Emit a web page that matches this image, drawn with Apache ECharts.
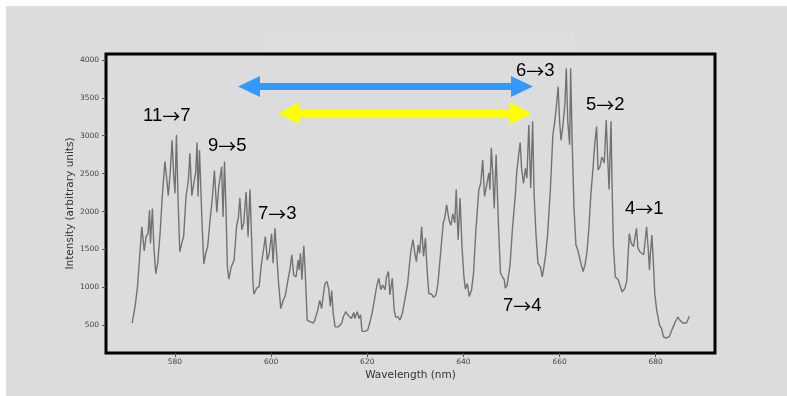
<!DOCTYPE html>
<html>
<head>
<meta charset="utf-8">
<script src="https://cdn.jsdelivr.net/npm/echarts@6.0.0/dist/echarts.min.js"></script>
<style>
  html, body { margin: 0; padding: 0; background: #fff; }
  #spectrum { width: 787px; height: 396px; }
</style>
</head>
<body>
<div id="spectrum"></div>
<script>
  // wavelength (nm)
  var wavelength = [
    571.1, 571.7, 572.2, 572.7, 573.1, 573.6, 574.0, 574.4, 574.7, 574.9, 575.3, 575.6, 576.0, 576.4, 576.9,
    577.4, 577.9, 578.3, 578.6, 579.0, 579.4, 579.7, 580.0, 580.3, 580.6, 581.0, 581.4, 581.8, 582.3, 582.8,
    583.1, 583.5, 583.9, 584.3, 584.6, 584.8, 585.1, 585.6, 586.0, 586.4, 586.8, 587.3, 587.8, 588.2, 588.7,
    589.1, 589.7, 590.0, 590.3, 590.6, 590.9, 591.2, 591.7, 592.3, 592.8, 593.2, 593.5, 593.9, 594.3, 594.8,
    595.2, 595.6, 595.9, 596.2, 596.4, 597.0, 597.5, 598.0, 598.4, 598.8, 599.2, 599.6, 600.1, 600.4, 600.8,
    601.1, 601.5, 602.0, 602.5, 602.9, 603.5, 603.9, 604.3, 604.7, 605.2, 605.6, 605.8, 606.1, 606.4, 606.8,
    607.1, 607.5, 608.1, 608.8, 609.1, 609.7, 610.1, 610.5, 610.8, 611.2, 611.6, 612.0, 612.3, 612.6, 612.9,
    613.3, 614.0, 614.7, 615.0, 615.5, 615.9, 616.3, 616.7, 617.2, 617.4, 617.9, 618.3, 618.6, 618.9, 619.5,
    620.1, 620.5, 621.0, 621.6, 622.0, 622.4, 622.8, 623.2, 623.7, 624.0, 624.4, 624.7, 625.2, 625.6, 625.9,
    626.4, 626.8, 627.3, 627.8, 628.4, 628.8, 629.1, 629.5, 629.8, 630.2, 630.6, 630.9, 631.3, 631.7, 632.1,
    632.4, 632.8, 633.4, 633.8, 634.3, 634.7, 635.3, 635.8, 636.1, 636.5, 637.0, 637.4, 637.8, 638.2, 638.5,
    638.9, 639.3, 639.7, 640.1, 640.4, 640.8, 641.2, 641.7, 642.1, 642.6, 643.2, 643.6, 644.0, 644.4, 644.8,
    645.3, 645.5, 645.8, 646.1, 646.4, 646.8, 647.3, 647.7, 648.1, 648.5, 648.7, 649.1, 649.7, 650.2, 650.8,
    651.1, 651.5, 651.8, 652.1, 652.5, 652.9, 653.2, 653.6, 654.0, 654.4, 654.7, 655.1, 655.5, 656.0, 656.4,
    656.7, 657.1, 657.5, 658.1, 658.6, 658.9, 659.3, 659.7, 660.0, 660.3, 660.7, 661.1, 661.4, 661.7, 662.1,
    662.3, 662.6, 663.0, 663.4, 663.8, 664.2, 664.5, 664.9, 665.3, 665.7, 666.1, 666.5, 667.0, 667.3, 667.7,
    668.0, 668.4, 668.8, 669.3, 669.7, 670.0, 670.3, 670.7, 670.9, 671.2, 671.6, 672.2, 672.6, 673.0, 673.6,
    674.0, 674.2, 674.5, 674.9, 675.4, 675.6, 676.0, 676.3, 676.7, 677.1, 677.5, 677.8, 678.1, 678.4, 678.7,
    678.9, 679.2, 679.5, 679.8, 680.2, 680.8, 681.2, 681.6, 682.1, 682.8, 683.5, 684.1, 684.6, 685.0, 685.6,
    686.4, 687.0
  ];
  // intensity (arbitrary units), same order
  var intensity = [
    530, 750, 1010, 1450, 1800, 1480, 1670, 1710, 2020, 1580, 2040, 1540, 1180, 1320, 1710,
    2240, 2660, 2420, 2210, 2510, 2940, 2510, 2240, 3010, 2240, 1470, 1580, 1670, 2200, 2420,
    2770, 2210, 2370, 2510, 2910, 2200, 2810, 1890, 1310, 1450, 1540, 1890, 2200, 2540, 1990,
    2330, 2590, 1930, 2660, 2060, 1270, 1110, 1270, 1360, 1800, 1930, 2180, 1760, 1850, 2260,
    1670, 2290, 1710, 1100, 910, 990, 1010, 1320, 1490, 1670, 1360, 1450, 1710, 1320, 1780,
    1780, 1100, 720, 830, 880, 1100, 1230, 1430, 1160, 1140, 1360, 1230, 1450, 1100, 1550,
    1190, 570, 550, 530, 570, 700, 830, 720, 880, 1050, 1080, 970, 750, 960, 660,
    480, 480, 530, 610, 680, 640, 660, 590, 670, 590, 680, 590, 640, 420, 420,
    440, 530, 660, 880, 1030, 1120, 970, 1030, 970, 1140, 1210, 900, 1120, 700, 610,
    610, 570, 660, 830, 1050, 1320, 1490, 1630, 1490, 1340, 1560, 1450, 1800, 1410, 1650,
    1270, 920, 910, 870, 900, 1050, 1490, 1850, 1910, 2090, 1890, 1820, 1970, 1850, 2290,
    1630, 2180, 1540, 1140, 980, 1050, 880, 970, 1190, 1760, 2290, 2370, 2680, 2200, 2180,
    2510, 2290, 2840, 2510, 2040, 2750, 1800, 1190, 1140, 1100, 990, 1030, 1300, 1780, 2220,
    2530, 2750, 2910, 2570, 2370, 2570, 2440, 3140, 2310, 3190, 2220, 1690, 1320, 1270, 1140,
    1250, 1430, 1690, 2310, 3010, 3140, 3360, 3650, 3190, 2940, 3140, 3410, 3890, 3190, 2880,
    3890, 2970, 2040, 1560, 1490, 1470, 1300, 1210, 1300, 1470, 1780, 2220, 2610, 2880, 3120,
    2550, 2590, 2720, 2640, 3210, 2720, 2290, 3190, 2420, 1540, 1140, 1100, 1080, 940, 990,
    1100, 1360, 1710, 1580, 1540, 1630, 1780, 1520, 1470, 1490, 1430, 1450, 1800, 1540, 1230,
    1450, 1690, 1340, 920, 700, 500, 460, 350, 330, 350, 460, 550, 610, 570, 530,
    530, 620
  ];

  // transition labels written on the figure: [upper, lower]
  var transitions = [[11, 7], [9, 5], [7, 3], [6, 3], [5, 2], [4, 1], [7, 4]];
  var labelPos = [[143, 116], [208, 146], [258, 214], [516, 71], [586, 105], [625, 209], [503, 306]];

  var points = [];
  for (var i = 0; i < wavelength.length; i++) {
    points.push([wavelength[i], intensity[i]]);
  }

  var graphics = [
    { type: 'rect', z: -10, shape: { x: 6, y: 6, width: 781, height: 390 }, style: { fill: '#dcdcdc' } },
    { type: 'rect', z: -9, shape: { x: 262, y: 33, width: 312, height: 20 }, style: { fill: '#dedede' } },
    // blue double arrow
    { type: 'polygon', z: 10, shape: { points: [[238, 86.5], [260, 76], [260, 83], [511, 83], [511, 76], [533, 86.5], [511, 97], [511, 90], [260, 90], [260, 97]] },
      style: { fill: '#3399ff' } },
    // yellow double arrow
    { type: 'polygon', z: 10, shape: { points: [[278, 113.5], [299, 102.5], [299, 110], [510, 110], [510, 102.5], [532, 113.5], [510, 124], [510, 117], [299, 117], [299, 124]] },
      style: { fill: '#ffff00' } }
  ];
  transitions.forEach(function (t, k) {
    graphics.push({
      type: 'text', z: 10, x: labelPos[k][0], y: labelPos[k][1],
      style: {
        text: '{d|' + t[0] + '}{a|\u2192}{d|' + t[1] + '}',
        verticalAlign: 'middle',
        rich: {
          d: { fontFamily: 'Liberation Sans', fontSize: 18.5, fill: '#000', color: '#000' },
          a: { fontFamily: 'Noto Sans CJK SC', fontSize: 18, fill: '#000', color: '#000' }
        }
      }
    });
  });

  var chart = echarts.init(document.getElementById('spectrum'));
  chart.setOption({
    backgroundColor: '#ffffff',
    animation: false,
    grid: {
      left: 106, right: 72, top: 54, bottom: 43,
      show: true, borderColor: '#000', borderWidth: 3, backgroundColor: 'transparent'
    },
    xAxis: {
      type: 'value',
      min: 565.65,
      max: 692.33,
      splitNumber: 6,
      name: 'Wavelength (nm)',
      nameLocation: 'middle',
      nameGap: 17,
      nameMoveOverlap: false,
      nameTextStyle: { fontFamily: 'DejaVu Sans', fontSize: 10.5, color: '#333' },
      axisLine: { show: false },
      axisTick: { show: true, length: 4, lineStyle: { color: '#555' } },
      axisLabel: { fontFamily: 'DejaVu Sans', fontSize: 7.5, color: '#444', margin: 5, showMinLabel: false, showMaxLabel: false },
      splitLine: { show: false }
    },
    yAxis: {
      type: 'value',
      min: 135,
      max: 4078,
      splitNumber: 8,
      name: 'Intensity (arbitrary units)',
      nameLocation: 'middle',
      nameGap: 30,
      nameMoveOverlap: false,
      nameTextStyle: { fontFamily: 'DejaVu Sans', fontSize: 10.5, color: '#333' },
      axisLine: { show: false },
      axisTick: { show: true, length: 4, lineStyle: { color: '#555' } },
      axisLabel: {
        fontFamily: 'DejaVu Sans', fontSize: 7.5, color: '#444', margin: 7,
        showMinLabel: false, showMaxLabel: false,
        formatter: function (v) { return String(v); }
      },
      splitLine: { show: false }
    },
    series: [{
      type: 'line',
      data: points,
      symbol: 'none',
      lineStyle: { color: '#727272', width: 1.4 }
    }],
    graphic: graphics
  });
</script>
</body>
</html>
